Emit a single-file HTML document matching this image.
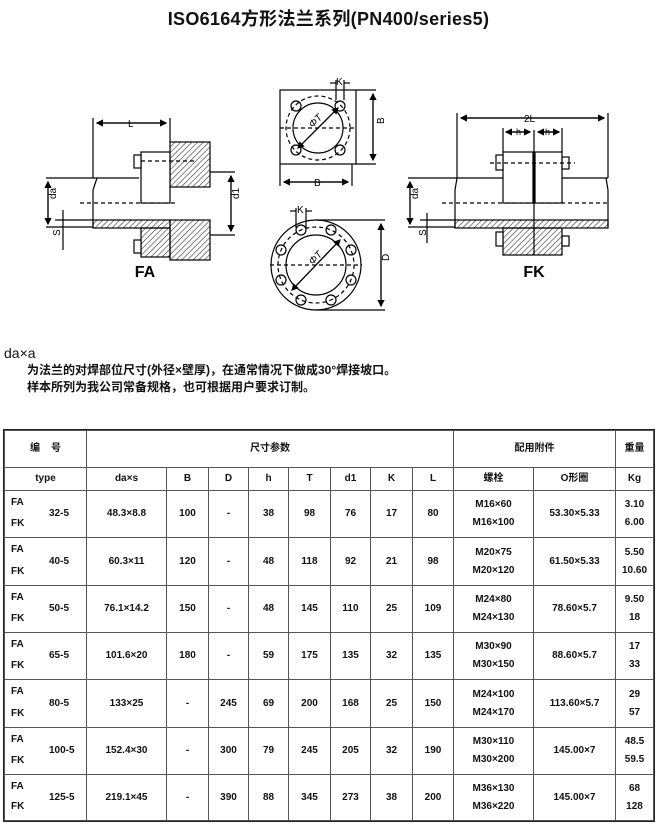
<!DOCTYPE html>
<html><head><meta charset="utf-8">
<style>
html,body{margin:0;padding:0;background:#fff;}
body{width:657px;height:829px;position:relative;overflow:hidden;font-family:"Liberation Sans","Noto Sans CJK SC",sans-serif;color:#111;}
.title{position:absolute;left:0;width:657px;top:5px;text-align:center;font-size:18px;font-weight:bold;letter-spacing:0.3px;}
.t{position:absolute;font-weight:bold;font-size:12px;}
table{position:absolute;left:4px;top:430px;border-collapse:collapse;table-layout:fixed;width:649px;font-size:10px;font-weight:bold;}
td{border:1px solid #555;text-align:center;padding:0;line-height:18px;}
table{outline:1.5px solid #222;}
.c1{position:relative;}
.c1 .a{position:absolute;left:6px;top:6px;line-height:12px;}
.c1 .b{position:absolute;left:6px;bottom:7px;line-height:12px;}
.c1 .m{position:absolute;left:44px;top:50%;margin-top:-6px;line-height:12px;}
</style></head><body>
<div class="title">ISO6164方形法兰系列(PN400/series5)</div>
<svg width="657" height="420" style="position:absolute;left:0;top:0" font-family="Liberation Sans, sans-serif">
<defs>
<pattern id="h" width="4" height="4" patternUnits="userSpaceOnUse" patternTransform="rotate(45)"><line x1="0" y1="0" x2="0" y2="4" stroke="#333" stroke-width="1.2"/></pattern>
<marker id="ar" markerWidth="6" markerHeight="6" refX="5" refY="3" orient="auto"><path d="M0,0 L6,3 L0,6z" fill="#000"/></marker>
</defs>
<g stroke="#000" stroke-width="1.2" fill="none">
<!-- FA -->
<rect x="170" y="142" width="40" height="45" fill="url(#h)"/>
<rect x="170" y="220" width="40" height="40" fill="url(#h)"/>
<rect x="141" y="228" width="29" height="29" fill="url(#h)"/>
<rect x="93" y="220" width="77" height="8" fill="url(#h)"/>
<line x1="46" y1="178" x2="139" y2="178"/>
<line x1="97" y1="178" x2="93" y2="190"/><line x1="93" y1="190" x2="93" y2="228"/>
<line x1="46" y1="227" x2="93" y2="227"/>
<line x1="80" y1="203" x2="175" y2="203" stroke-dasharray="4,3"/>
<rect x="141" y="152" width="29" height="51" fill="#fff"/>
<rect x="134" y="155" width="7" height="13" fill="#fff"/>
<rect x="134" y="240" width="7" height="13" fill="#fff"/>
<line x1="141" y1="161" x2="195" y2="161" stroke-dasharray="4,3"/>
<line x1="93" y1="118" x2="93" y2="178"/><line x1="170" y1="118" x2="170" y2="142"/>
<line x1="97" y1="123" x2="166" y2="123" marker-end="url(#ar)"/><line x1="166" y1="123" x2="97" y2="123" marker-end="url(#ar)"/>
<line x1="210" y1="172" x2="235" y2="172"/><line x1="210" y1="235" x2="235" y2="235"/>
<line x1="231" y1="176" x2="231" y2="231" marker-end="url(#ar)"/><line x1="231" y1="231" x2="231" y2="176" marker-end="url(#ar)"/>
<line x1="48" y1="182" x2="48" y2="224" marker-end="url(#ar)"/><line x1="48" y1="224" x2="48" y2="182" marker-end="url(#ar)"/>
<line x1="63" y1="210" x2="63" y2="250"/><line x1="55" y1="220" x2="93" y2="220"/>
<!-- square -->
<rect x="280" y="90" width="76" height="74"/>
<circle cx="318" cy="128" r="32" stroke-dasharray="4,3"/>
<circle cx="318" cy="128" r="25"/>
<circle cx="296" cy="106" r="5"/><circle cx="340" cy="106" r="5"/><circle cx="296" cy="150" r="5"/><circle cx="340" cy="150" r="5"/>
<line x1="280" y1="128" x2="356" y2="128" stroke-dasharray="4,3"/>
<line x1="298" y1="148" x2="338" y2="108" marker-end="url(#ar)"/><line x1="338" y1="108" x2="298" y2="148" marker-end="url(#ar)"/>
<line x1="356" y1="90" x2="376" y2="90"/><line x1="356" y1="164" x2="376" y2="164"/>
<line x1="373" y1="94" x2="373" y2="160" marker-end="url(#ar)"/><line x1="373" y1="160" x2="373" y2="94" marker-end="url(#ar)"/>
<line x1="280" y1="164" x2="280" y2="186"/><line x1="352" y1="164" x2="352" y2="186"/>
<line x1="284" y1="182" x2="348" y2="182" marker-end="url(#ar)"/><line x1="348" y1="182" x2="284" y2="182" marker-end="url(#ar)"/>
<line x1="336" y1="80" x2="336" y2="100"/><line x1="344" y1="80" x2="344" y2="100"/>
<line x1="330" y1="83" x2="336" y2="83"/><line x1="344" y1="83" x2="350" y2="83"/>
<!-- round -->
<circle cx="316" cy="265" r="45"/>
<circle cx="316" cy="265" r="30"/>
<circle cx="316" cy="265" r="38" stroke-dasharray="4,3"/>
<g>
<circle cx="301" cy="230" r="5"/><circle cx="331" cy="230" r="5"/><circle cx="351" cy="250" r="5"/><circle cx="351" cy="280" r="5"/>
<circle cx="331" cy="300" r="5"/><circle cx="301" cy="300" r="5"/><circle cx="281" cy="280" r="5"/><circle cx="281" cy="250" r="5"/>
</g>
<line x1="270" y1="265" x2="362" y2="265" stroke-dasharray="4,3"/>
<line x1="292" y1="290" x2="340" y2="240" marker-end="url(#ar)"/><line x1="340" y1="240" x2="292" y2="290" marker-end="url(#ar)"/>
<line x1="316" y1="220" x2="385" y2="220"/><line x1="316" y1="310" x2="385" y2="310"/>
<line x1="381" y1="224" x2="381" y2="306" marker-end="url(#ar)"/><line x1="381" y1="306" x2="381" y2="224" marker-end="url(#ar)"/>
<line x1="296" y1="208" x2="296" y2="228"/><line x1="306" y1="208" x2="306" y2="228"/>
<line x1="290" y1="211" x2="296" y2="211"/><line x1="306" y1="211" x2="312" y2="211"/>
<!-- FK -->
<rect x="455" y="220" width="153" height="8" fill="url(#h)"/>
<rect x="503" y="228" width="59" height="27" fill="url(#h)"/>
<line x1="408" y1="178" x2="608" y2="178"/>
<line x1="457" y1="178" x2="455" y2="190"/><line x1="455" y1="190" x2="455" y2="228"/>
<line x1="606" y1="178" x2="608" y2="190"/><line x1="608" y1="190" x2="608" y2="228"/>
<line x1="408" y1="227" x2="455" y2="227"/>
<line x1="442" y1="203" x2="608" y2="203" stroke-dasharray="4,3"/>
<rect x="503" y="152" width="30" height="51" fill="#fff"/>
<rect x="535" y="152" width="27" height="51" fill="#fff"/>
<rect x="496" y="155" width="7" height="15" fill="#fff"/><rect x="562" y="157" width="7" height="12" fill="#fff"/>
<rect x="496" y="232" width="7" height="14" fill="#fff"/><rect x="562" y="236" width="7" height="10" fill="#fff"/>
<line x1="490" y1="163" x2="575" y2="163" stroke-dasharray="4,3"/>
<line x1="534" y1="130" x2="534" y2="255"/>
<line x1="457" y1="113" x2="457" y2="178"/><line x1="608" y1="113" x2="608" y2="178"/>
<line x1="461" y1="118" x2="604" y2="118" marker-end="url(#ar)"/><line x1="604" y1="118" x2="461" y2="118" marker-end="url(#ar)"/>
<line x1="503" y1="128" x2="503" y2="152"/><line x1="562" y1="128" x2="562" y2="152"/>
<line x1="506" y1="132" x2="530" y2="132" marker-end="url(#ar)"/><line x1="530" y1="132" x2="506" y2="132" marker-end="url(#ar)"/>
<line x1="538" y1="132" x2="559" y2="132" marker-end="url(#ar)"/><line x1="559" y1="132" x2="538" y2="132" marker-end="url(#ar)"/>
<line x1="410" y1="182" x2="410" y2="224" marker-end="url(#ar)"/><line x1="410" y1="224" x2="410" y2="182" marker-end="url(#ar)"/>
<line x1="427" y1="213" x2="427" y2="243"/><line x1="420" y1="220" x2="455" y2="220"/>
</g>
<g font-size="10" fill="#000">
<text x="128" y="127">L</text>
<text x="56" y="207" transform="rotate(-90 52 203)">da</text>
<text x="239" y="207" transform="rotate(-90 235 203)">d1</text>
<text x="56" y="240" transform="rotate(-90 56 236)">S</text>
<text x="314" y="186">B</text>
<text x="384" y="132" transform="rotate(-90 380 128)">B</text>
<text x="336" y="85">K</text>
<text x="297" y="213">K</text>
<text x="390" y="268" transform="rotate(-90 386 265)">D</text>
<text x="310" y="126" transform="rotate(-45 314 124)" font-style="italic">ΦT</text>
<text x="310" y="263" transform="rotate(-45 314 261)" font-style="italic">ΦT</text>
<text x="524" y="122">2L</text>
<text x="516" y="135" font-size="9">h</text><text x="545" y="135" font-size="9">h</text>
<text x="418" y="207" transform="rotate(-90 414 203)">da</text>
<text x="422" y="240" transform="rotate(-90 422 236)">S</text>
</g>
<text x="145" y="277" text-anchor="middle" font-size="16" font-weight="bold">FA</text>
<text x="534" y="277" text-anchor="middle" font-size="16" font-weight="bold">FK</text>
</svg>
<div class="t" style="left:4px;top:345px;font-size:14px;font-weight:normal">da×a</div>
<div class="t" style="left:27px;top:361px">为法兰的对焊部位尺寸(外径×壁厚)，在通常情况下做成30°焊接坡口。</div>
<div class="t" style="left:27px;top:378px">样本所列为我公司常备规格，也可根据用户要求订制。</div>
<table>
<colgroup><col style="width:82px"><col style="width:80px"><col style="width:42px"><col style="width:40px"><col style="width:40px"><col style="width:42px"><col style="width:40px"><col style="width:42px"><col style="width:41px"><col style="width:80px"><col style="width:82px"><col style="width:38px"></colgroup>
<tr style="height:37px"><td>编&nbsp;&nbsp;&nbsp;&nbsp;号</td><td colspan="8">尺寸参数</td><td colspan="2">配用附件</td><td>重量</td></tr>
<tr style="height:23px"><td style="border-top:none">type</td><td>da×s</td><td>B</td><td>D</td><td>h</td><td>T</td><td>d1</td><td>K</td><td>L</td><td>螺栓</td><td>O形圈</td><td style="border-top:none">Kg</td></tr>
<tr style="height:47px"><td class="c1"><span class="a">FA</span><span class="m">32-5</span><span class="b">FK</span></td><td>48.3×8.8</td><td>100</td><td>-</td><td>38</td><td>98</td><td>76</td><td>17</td><td>80</td><td>M16×60<br>M16×100</td><td>53.30×5.33</td><td>3.10<br>6.00</td></tr>
<tr style="height:48px"><td class="c1"><span class="a">FA</span><span class="m">40-5</span><span class="b">FK</span></td><td>60.3×11</td><td>120</td><td>-</td><td>48</td><td>118</td><td>92</td><td>21</td><td>98</td><td>M20×75<br>M20×120</td><td>61.50×5.33</td><td>5.50<br>10.60</td></tr>
<tr style="height:47px"><td class="c1"><span class="a">FA</span><span class="m">50-5</span><span class="b">FK</span></td><td>76.1×14.2</td><td>150</td><td>-</td><td>48</td><td>145</td><td>110</td><td>25</td><td>109</td><td>M24×80<br>M24×130</td><td>78.60×5.7</td><td>9.50<br>18</td></tr>
<tr style="height:47px"><td class="c1"><span class="a">FA</span><span class="m">65-5</span><span class="b">FK</span></td><td>101.6×20</td><td>180</td><td>-</td><td>59</td><td>175</td><td>135</td><td>32</td><td>135</td><td>M30×90<br>M30×150</td><td>88.60×5.7</td><td>17<br>33</td></tr>
<tr style="height:48px"><td class="c1"><span class="a">FA</span><span class="m">80-5</span><span class="b">FK</span></td><td>133×25</td><td>-</td><td>245</td><td>69</td><td>200</td><td>168</td><td>25</td><td>150</td><td>M24×100<br>M24×170</td><td>113.60×5.7</td><td>29<br>57</td></tr>
<tr style="height:47px"><td class="c1"><span class="a">FA</span><span class="m">100-5</span><span class="b">FK</span></td><td>152.4×30</td><td>-</td><td>300</td><td>79</td><td>245</td><td>205</td><td>32</td><td>190</td><td>M30×110<br>M30×200</td><td>145.00×7</td><td>48.5<br>59.5</td></tr>
<tr style="height:46px"><td class="c1"><span class="a">FA</span><span class="m">125-5</span><span class="b">FK</span></td><td>219.1×45</td><td>-</td><td>390</td><td>88</td><td>345</td><td>273</td><td>38</td><td>200</td><td>M36×130<br>M36×220</td><td>145.00×7</td><td>68<br>128</td></tr>
</table>
</body></html>
